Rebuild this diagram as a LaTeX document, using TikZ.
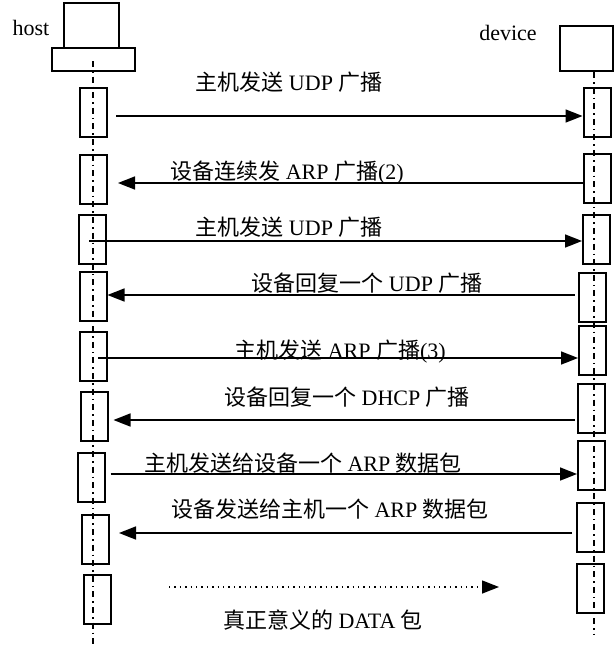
\documentclass[tikz,border=0pt]{standalone}
\usepackage{fontspec}
\setmainfont{Liberation Serif}
\newfontfamily\zhfont{Noto Sans CJK SC}
\newcommand{\zh}[1]{{\zhfont #1}}
\usetikzlibrary{arrows.meta,calc}

\begin{document}
\begin{tikzpicture}[x=0.5pt,y=-0.5pt,
  every node/.style={font=\fontsize{11}{13}\selectfont,inner sep=0pt},
  headbox/.style={draw,line width=1pt},
  actbox/.style={draw,line width=1pt,minimum width=13.5pt,minimum height=24.5pt},
  lifeline/.style={line width=0.8pt,dash pattern=on 3pt off 2pt on 0.8pt off 2pt},
  msg/.style={line width=0.85pt,-{Triangle[length=8.5pt,width=6.5pt]}},
  datamsg/.style={line width=0.7pt,dotted,-{Triangle[length=8.5pt,width=6.5pt]}}]
  \useasboundingbox (0,0) rectangle (614,648);
  % heads
  \node (hostlbl) at (31,28) {host};
  \node (devlbl) at (508,33) {device};
  \node[headbox,minimum width=27.5pt,minimum height=22.5pt] (hosttop) at (91.5,25.5) {};
  \node[headbox,minimum width=41.5pt,minimum height=11.5pt] (hostbase) at (93.5,59.5) {};
  \node[headbox,minimum width=26.5pt,minimum height=22.5pt] (devtop) at (586.5,48.5) {};
  % lifelines
  \coordinate (hoststart) at (93,61);
  \coordinate (hostend) at (93,648);
  \coordinate (devstart) at (594,72);
  \coordinate (devend) at (594,634);
  \draw[lifeline] (hoststart) -- (hostend);
  \draw[lifeline] (devstart) -- (devend);
  % host activations
  \node[actbox] (h1) at (93.5,112) {};
  \node[actbox] (h2) at (93.5,179) {};
  \node[actbox] (h3) at (92.5,239.5) {};
  \node[actbox] (h4) at (93,296.5) {};
  \node[actbox] (h5) at (93.5,356.5) {};
  \node[actbox] (h6) at (94,416) {};
  \node[actbox] (h7) at (91,477.5) {};
  \node[actbox] (h8) at (95.5,539) {};
  \node[actbox] (h9) at (97,599) {};
  % device activations
  \node[actbox] (d1) at (597,112) {};
  \node[actbox] (d2) at (597,178.5) {};
  \node[actbox] (d3) at (596.5,239.5) {};
  \node[actbox] (d4) at (592,297.5) {};
  \node[actbox] (d5) at (592.5,350.5) {};
  \node[actbox] (d6) at (591.5,408.5) {};
  \node[actbox] (d7) at (591.5,465.5) {};
  \node[actbox] (d8) at (590.5,527.5) {};
  \node[actbox] (d9) at (590.5,588.5) {};
  % messages
  \draw[msg] ($(h1.east)+(8,4)$) -- ($(d1.west)+(0,4)$);
  \draw[msg] ($(d2.west)+(0,4.5)$) -- ($(h2.east)+(10,4)$);
  \draw[msg] ($(h3.center)+(-3.5,1.5)$) -- ($(d3.west)+(0,1.5)$);
  \draw[msg] ($(d4.west)+(-3,-2.5)$) -- ($(h4.east)+(0,-1.5)$);
  \draw[msg] ($(h5.center)+(4.5,1.5)$) -- ($(d5.west)+(0,7.5)$);
  \draw[msg] ($(d6.west)+(-2,11.5)$) -- ($(h6.east)+(5,4)$);
  \draw[msg] ($(h7.east)+(5,-3.5)$) -- ($(d7.west)+(0,8.5)$);
  \draw[msg] ($(d8.west)+(-4,5.5)$) -- ($(h8.east)+(9,-6)$);
  \coordinate (datastart) at (169,587);
  \coordinate (dataend) at (499,587);
  \draw[datamsg] (datastart) -- (dataend);
  % labels
  \node (l1) at (289,82) {\zh{主机发送} UDP \zh{广播}};
  \node (l2) at (287,173) {\zh{设备连续发} ARP \zh{广播}(2)};
  \node (l3) at (289,227) {\zh{主机发送} UDP \zh{广播}};
  \node (l4) at (367,283) {\zh{设备回复一个} UDP \zh{广播}};
  \node (l5) at (340,352) {\zh{主机发送} ARP \zh{广播}(3)};
  \node (l6) at (347,397) {\zh{设备回复一个} DHCP \zh{广播}};
  \node (l7) at (303,463) {\zh{主机发送给设备一个} ARP \zh{数据包}};
  \node (l8) at (330,509) {\zh{设备发送给主机一个} ARP \zh{数据包}};
  \node (l9) at (323,620) {\zh{真正意义的} DATA \zh{包}};
\end{tikzpicture}
\end{document}
